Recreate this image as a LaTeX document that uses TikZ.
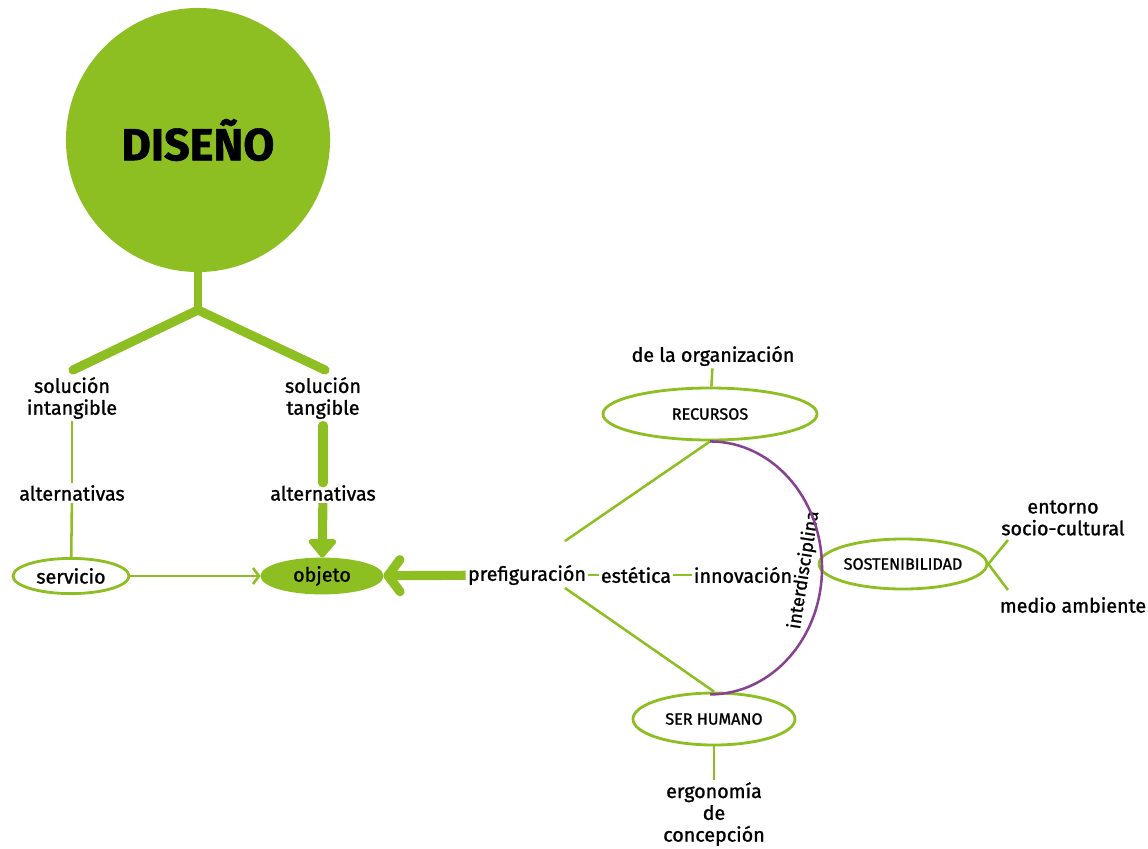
\documentclass[tikz,border=0pt]{standalone}
\usepackage{fontspec}
\setmainfont{Fira Sans}[FakeBold=1.2]
\usetikzlibrary{arrows.meta,shapes.geometric}

\definecolor{hojaverde}{RGB}{141,190,34}
\definecolor{morado}{RGB}{135,65,145}

\tikzset{
	txt/.style={font=\fontsize{14}{15.5}\selectfont, align=center, inner sep=1.5pt},
	caja/.style={ellipse, draw=hojaverde, line width=2pt, inner sep=0pt, font=\fontsize{11.5}{13}\selectfont, minimum height=1.3cm},
	fina/.style={draw=hojaverde, line width=1.8pt},
	gruesa/.style={draw=hojaverde, line width=6.5pt},
}

\begin{document}
\begin{tikzpicture}[x=0.025cm, y=-0.025cm]
	\useasboundingbox (0,0) rectangle (1148,848);
		\node[circle, fill=hojaverde, minimum size=6.6cm, font=\fontsize{32}{38}\selectfont\bfseries] (diseno) at (198,140) {DISEÑO};
		\coordinate (rama) at (198,310);
		\coordinate (ramaint) at (73,370);
		\coordinate (ramatan) at (325,370);
		\node[txt] (solint) at (72,398) {solución\\intangible};
		\node[txt] (altint) at (72,493) {alternativas};
		\node[caja, minimum width=2.9cm, minimum height=0.88cm, font=\fontsize{14}{15.5}\selectfont] (servicio) at (71,576) {servicio};
		\node[txt] (soltan) at (323,398) {solución\\tangible};
		\node[txt] (altan) at (323,493) {alternativas};
		\node[caja, fill=hojaverde, minimum width=3cm, minimum height=0.85cm, font=\fontsize{14}{15.5}\selectfont] (objeto) at (322,576) {objeto};
		\node[txt] (pref) at (527,575) {prefiguración};
		\node[txt] (estet) at (636,575) {estética};
		\node[txt] (innov) at (743,575) {innovación};
		\coordinate (prefarr) at (565,541);
		\coordinate (prefab) at (565,588);
		\node[caja, minimum width=5.35cm] (recursos) at (710,414) {RECURSOS};
		\node[txt] (organiz) at (713,356) {de la organización};
		\node[caja, minimum width=4.05cm] (humano) at (714,719) {SER HUMANO};
		\node[txt] (ergo) at (714,814) {ergonomía\\de\\concepción};
		\node[caja, minimum width=4.05cm, minimum height=1.25cm] (sosten) at (903,564) {SOSTENIBILIDAD};
		\coordinate (horqarr) at (1008,540);
		\coordinate (horqab) at (1008,590);
		\node[txt] (entorno) at (1063,518) {entorno\\socio-cultural};
		\node[txt] (medio) at (1073,605) {medio ambiente};
		\node[font=\fontsize{13}{15}\selectfont, inner sep=0pt, rotate=81] (inter) at (804,570) {interdisciplina};
	\draw[gruesa, line width=5.5pt] (diseno.south) -- (rama);
	\draw[gruesa, line cap=round] (ramaint) -- (rama) -- (ramatan);
	\draw[fina] (solint) -- (altint);
	\draw[fina] (altint) -- (servicio);
	\draw[gruesa, line cap=round, shorten <=3pt] (soltan) -- (altan);
	\draw[gruesa, -{Triangle[round, length=0.5cm, width=0.8cm]}] (altan) -- (objeto);
	\draw[fina, -{Straight Barb[length=0.15cm, width=0.4cm]}] (servicio) -- (objeto);
	\draw[gruesa, -{Straight Barb[round, length=0.3cm, width=0.8cm]}] (pref) -- (objeto);
	\draw[fina] (pref) -- (estet);
	\draw[fina] (estet) -- (innov);
	\draw[fina] (prefarr) -- (recursos.south);
	\draw[fina] (prefab) -- (humano.north);
	\draw[fina] (organiz) -- (recursos);
	\draw[fina] (humano) -- (ergo);
	\draw[morado, line width=1.8pt] (recursos.south) arc[start angle=-90, end angle=90, x radius=112, y radius=126.5];
	\draw[fina] (sosten.east) -- (horqarr);
	\draw[fina] (sosten.east) -- (horqab);
\end{tikzpicture}
\end{document}
